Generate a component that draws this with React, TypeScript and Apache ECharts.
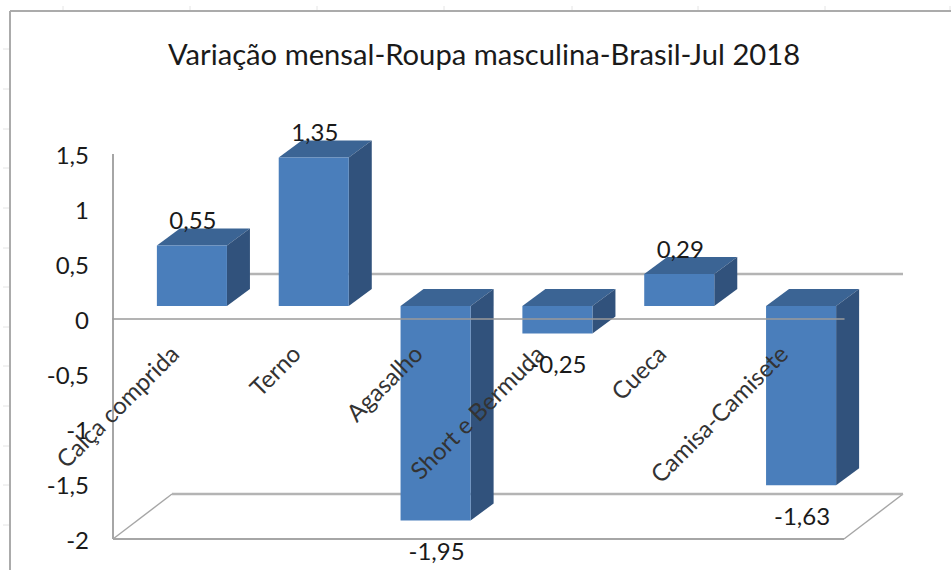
import React, { useEffect, useRef } from "react";
import * as echarts from "echarts";

const titleText = "Variação mensal-Roupa masculina-Brasil-Jul 2018";
const categories = ["Calça comprida", "Terno", "Agasalho", "Short e Bermuda", "Cueca", "Camisa-Camisete"];
const values = [0.55, 1.35, -1.95, -0.25, 0.29, -1.63];
const yTicks = { min: -2, max: 1.5, interval: 0.5 };
const leftTickRows = [49, 89, 129, 168, 208, 248, 287, 327, 366, 406, 446, 485, 525];
const topTickCols = [63, 190, 317, 444, 572, 698, 825, 950];

const FONT = "Lato, Carlito, Calibri, sans-serif";
const fmt = (v: number) => String(v).replace(".", ",");

// 3D projection offsets
const DEPTH = { dx: 59, dy: -45 };
const BAR_SHIFT = { dx: 18, dy: -13 };
const BAR_DEPTH = { dx: 23, dy: -17 };
const BAR_WIDTH_RATIO = 0.575;

const floorItem = (_p: any, api: any) => {
  const [x0, yBottom] = api.coord([0, yTicks.min]);
  const band = api.size([1, 0])[0];
  const left = x0 - band / 2;
  const right = left + band * categories.length;
  const yZero = api.coord([0, 0])[1];
  const yTop = api.coord([0, yTicks.max])[1];
  const line = { stroke: "#a6a6a6", lineWidth: 2, fill: "none" };
  const thin = { stroke: "#a6a6a6", lineWidth: 1.4, fill: "none" };
  const seg = (x1: number, y1: number, x2: number, y2: number, style: any) => ({
    type: "line",
    shape: { x1, y1, x2, y2 },
    style,
  });
  return {
    type: "group",
    children: [
      seg(left, yTop, left, yBottom, line),
      seg(left, yBottom, right, yBottom, line),
      seg(left, yBottom, left + DEPTH.dx, yBottom + DEPTH.dy, thin),
      seg(right, yBottom, right + DEPTH.dx, yBottom + DEPTH.dy, thin),
      seg(left + DEPTH.dx, yBottom + DEPTH.dy, right + DEPTH.dx, yBottom + DEPTH.dy, { ...line, stroke: "#b4b4b4", lineWidth: 2.5 }),
      seg(left + DEPTH.dx + 64, yZero + DEPTH.dy, right + DEPTH.dx, yZero + DEPTH.dy, { ...line, stroke: "#b4b4b4", lineWidth: 2.5 }),
    ],
  };
};

const barItem = (_p: any, api: any) => {
  const i = api.value(0);
  const v = api.value(1);
  const [cx, yVal] = api.coord([i, v]);
  const yZero = api.coord([i, 0])[1];
  const w = api.size([1, 0])[0] * BAR_WIDTH_RATIO;
  const xl = cx + BAR_SHIFT.dx - w / 2;
  const xr = xl + w;
  const yV = yVal + BAR_SHIFT.dy;
  const y0 = yZero + BAR_SHIFT.dy;
  const top = Math.min(yV, y0);
  const bottom = Math.max(yV, y0);
  const { dx, dy } = BAR_DEPTH;
  const poly = (points: number[][], fill: string) => ({
    type: "polygon",
    shape: { points },
    style: { fill, stroke: "none" },
  });
  return {
    type: "group",
    children: [
      poly([[xl, top], [xr, top], [xr + dx, top + dy], [xl + dx, top + dy]], "#3b6494"),
      poly([[xr, top], [xr + dx, top + dy], [xr + dx, bottom + dy], [xr, bottom]], "#31527c"),
      poly([[xl, top], [xr, top], [xr, bottom], [xl, bottom]], "#4a7ebb"),
    ],
  };
};

const labelItem = (_p: any, api: any) => {
  const i = api.value(0);
  const v = api.value(1);
  const [cx, yVal] = api.coord([i, v]);
  const y = yVal + BAR_SHIFT.dy + (v >= 0 ? -26 : 30);
  return {
    type: "text",
    x: cx + BAR_SHIFT.dx + 1,
    y,
    style: {
      text: fmt(v),
      font: `24px ${FONT}`,
      fill: "#1a1a1a",
      align: "center",
      verticalAlign: "middle",
    },
  };
};

export default function App() {
  const ref = useRef<HTMLDivElement>(null);
  useEffect(() => {
    const chart = echarts.init(ref.current!, undefined, { renderer: "svg" });
    const seriesData = values.map((v, i) => [i, v]);
    chart.setOption({
      animation: false,
      backgroundColor: "#ffffff",
      title: {
        text: titleText,
        left: 479,
        top: 34,
        textAlign: "center",
        textStyle: { fontFamily: FONT, fontSize: 29.2, fontWeight: "normal", color: "#1a1a1a" },
      },
      grid: { left: 113, right: 107, top: 154, bottom: 31, outerBoundsMode: "none" },
      xAxis: {
        type: "category",
        data: categories,
        z: 6,
        axisLine: { onZero: true, lineStyle: { color: "#9a9a9a", width: 1.5 } },
        axisTick: { show: false },
        axisLabel: {
          rotate: 45,
          interval: 0,
          margin: -190,
          fontFamily: FONT,
          fontSize: 24,
          color: "#333333",
        },
      },
      yAxis: {
        type: "value",
        min: yTicks.min,
        max: yTicks.max,
        interval: yTicks.interval,
        axisLine: { show: false },
        axisTick: { show: false },
        splitLine: { show: false },
        axisLabel: {
          margin: 24,
          fontFamily: FONT,
          fontSize: 24,
          color: "#1a1a1a",
          padding: [9, 0, 0, 0],
          formatter: (v: number) => fmt(v),
        },
      },
      graphic: [
        { type: "line", shape: { x1: 10, y1: 11, x2: 951, y2: 11 }, style: { stroke: "#ababab", lineWidth: 2 } },
        { type: "line", shape: { x1: 10, y1: 11, x2: 10, y2: 570 }, style: { stroke: "#ababab", lineWidth: 2 } },
        ...leftTickRows.map((y) => ({
          type: "line",
          shape: { x1: 3, y1: y, x2: 9, y2: y },
          style: { stroke: "#e4e4e4", lineWidth: 1 },
        })),
        ...topTickCols.map((x) => ({
          type: "line",
          shape: { x1: x, y1: 6, x2: x, y2: 10 },
          style: { stroke: "#e4e4e4", lineWidth: 1 },
        })),
      ],
      series: [
        { type: "custom", z: 1, silent: true, data: [[0, 0]], encode: { x: 0, y: 1 }, renderItem: floorItem },
        { type: "custom", z: 2, data: seriesData, encode: { x: 0, y: 1 }, renderItem: barItem },
        { type: "custom", z: 7, data: seriesData, encode: { x: 0, y: 1 }, renderItem: labelItem },
      ],
    });
    return () => chart.dispose();
  }, []);
  return <div ref={ref} style={{ position: "fixed", left: 0, top: 0, width: 951, height: 570 }} />;
}
